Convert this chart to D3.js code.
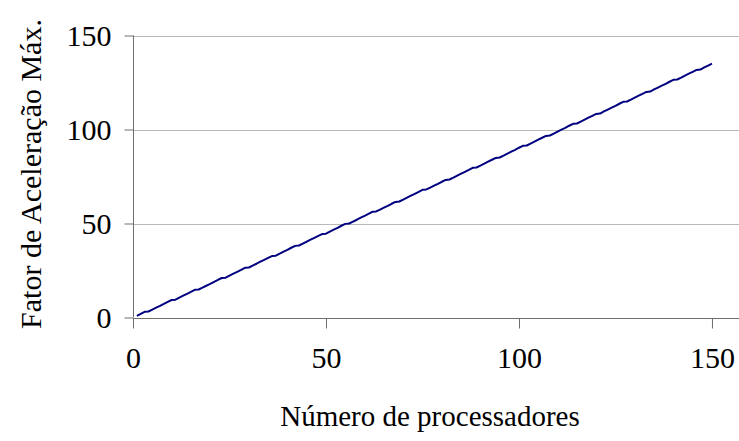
<!DOCTYPE html>
<html>
<head>
<meta charset="utf-8">
<script src="https://cdn.jsdelivr.net/npm/d3@7"></script>
<style>
  html, body { margin: 0; padding: 0; background: #fff; }
  svg { display: block; }
  svg text { font-family: "Liberation Serif", "Times New Roman", serif !important; fill: #000; }
</style>
</head>
<body>
<svg id="chart" width="739" height="441"></svg>
<script>
// Número de processadores
const processadores = [
  1, 2, 3, 4, 5, 6, 7, 8, 9, 10, 11, 12, 13, 14, 15, 16, 17, 18, 19, 20,
  21, 22, 23, 24, 25, 26, 27, 28, 29, 30, 31, 32, 33, 34, 35, 36, 37, 38, 39, 40,
  41, 42, 43, 44, 45, 46, 47, 48, 49, 50, 51, 52, 53, 54, 55, 56, 57, 58, 59, 60,
  61, 62, 63, 64, 65, 66, 67, 68, 69, 70, 71, 72, 73, 74, 75, 76, 77, 78, 79, 80,
  81, 82, 83, 84, 85, 86, 87, 88, 89, 90, 91, 92, 93, 94, 95, 96, 97, 98, 99, 100,
  101, 102, 103, 104, 105, 106, 107, 108, 109, 110, 111, 112, 113, 114, 115, 116, 117, 118, 119, 120,
  121, 122, 123, 124, 125, 126, 127, 128, 129, 130, 131, 132, 133, 134, 135, 136, 137, 138, 139, 140,
  141, 142, 143, 144, 145, 146, 147, 148, 149, 150
];

// Fator de aceleração máximo para cada número de processadores
const fatorAceleracao = [
  0.9, 1.9, 3.0, 3.2, 4.2, 5.2, 6.2, 7.3, 8.3, 9.3,
  9.5, 10.6, 11.6, 12.6, 13.6, 14.7, 14.9, 15.9, 16.9, 17.9,
  19.0, 20.0, 21.0, 21.2, 22.3, 23.3, 24.3, 25.3, 26.4, 26.6,
  27.6, 28.6, 29.7, 30.7, 31.7, 32.7, 32.9, 34.0, 35.0, 36.0,
  37.1, 38.1, 38.3, 39.3, 40.3, 41.4, 42.4, 43.4, 44.4, 44.6,
  45.7, 46.7, 47.7, 48.8, 49.8, 50.0, 51.0, 52.0, 53.1, 54.1,
  55.1, 56.2, 56.4, 57.4, 58.4, 59.4, 60.5, 61.5, 61.7, 62.7,
  63.8, 64.8, 65.8, 66.8, 67.9, 68.1, 69.1, 70.1, 71.1, 72.2,
  73.2, 73.4, 74.4, 75.5, 76.5, 77.5, 78.5, 79.6, 79.8, 80.8,
  81.8, 82.9, 83.9, 84.9, 85.1, 86.1, 87.2, 88.2, 89.2, 90.3,
  91.3, 91.5, 92.5, 93.5, 94.6, 95.6, 96.6, 96.8, 97.8, 98.9,
  99.9, 100.9, 102.0, 103.0, 103.2, 104.2, 105.2, 106.3, 107.3, 108.3,
  108.5, 109.6, 110.6, 111.6, 112.6, 113.7, 114.7, 114.9, 115.9, 117.0,
  118.0, 119.0, 120.0, 120.2, 121.3, 122.3, 123.3, 124.3, 125.4, 126.4,
  126.6, 127.6, 128.7, 129.7, 130.7, 131.7, 131.9, 133.0, 134.0, 135.0
];

const xTicks = [0, 50, 100, 150];
const yTicks = [0, 50, 100, 150];

const tituloX = "Número de processadores";
const tituloY = "Fator de Aceleração Máx.";

const serif = "'Liberation Serif', 'Times New Roman', serif";
const svg = d3.select("#chart");
const plotLeft = 133, plotRight = 739, plotTop = 35.5, plotBottom = 317.5;

const x = d3.scaleLinear().domain([0, 157]).range([plotLeft, plotRight]);
const y = d3.scaleLinear().domain([0, 150]).range([plotBottom, plotTop]);

// horizontal gridlines
svg.append("g")
  .selectAll("line")
  .data(yTicks.filter(d => d > 0))
  .join("line")
  .attr("x1", plotLeft).attr("x2", plotRight)
  .attr("y1", d => Math.round(y(d)) + 0.5).attr("y2", d => Math.round(y(d)) + 0.5)
  .attr("stroke", "#b8b8b8").attr("stroke-width", 1);

// y axis
const yAxis = svg.append("g")
  .attr("transform", `translate(${plotLeft + 0.5},0)`)
  .call(d3.axisLeft(y).tickValues(yTicks).tickSize(9).tickPadding(13).tickFormat(d3.format("d")))
  .attr("font-family", null).attr("font-size", null);
yAxis.select(".domain").attr("stroke", "#6e6e6e").attr("d", `M0,${plotTop}V${plotBottom}`);
yAxis.selectAll(".tick line").attr("stroke", "#6e6e6e");
yAxis.selectAll(".tick text").style("font-size", "30px").style("font-family", serif).attr("fill", "#000");

// x axis
const xAxis = svg.append("g")
  .attr("transform", `translate(0,${Math.round(plotBottom) + 0.5})`)
  .call(d3.axisBottom(x).tickValues(xTicks).tickSize(10).tickPadding(18).tickFormat(d3.format("d")))
  .attr("font-family", null).attr("font-size", null);
xAxis.select(".domain").attr("stroke", "#6e6e6e").attr("d", `M${plotLeft},0H${plotRight}`);
xAxis.selectAll(".tick line").attr("stroke", "#6e6e6e");
xAxis.selectAll(".tick text").style("font-size", "30px").style("font-family", serif).attr("fill", "#000");

// series line
const line = d3.line()
  .x((d, i) => x(processadores[i]))
  .y(d => y(d));

svg.append("path")
  .datum(fatorAceleracao)
  .attr("fill", "none")
  .attr("stroke", "#000080")
  .attr("stroke-width", 2)
  .attr("stroke-linejoin", "round")
  .attr("d", line);

// axis titles
svg.append("text")
  .attr("x", 430).attr("y", 426)
  .attr("text-anchor", "middle")
  .style("font-size", "29px").style("font-family", serif)
  .text(tituloX);

svg.append("text")
  .attr("transform", `translate(41,174) rotate(-90)`)
  .attr("text-anchor", "middle")
  .style("font-size", "30px").style("font-family", serif)
  .text(tituloY);
</script>
</body>
</html>
